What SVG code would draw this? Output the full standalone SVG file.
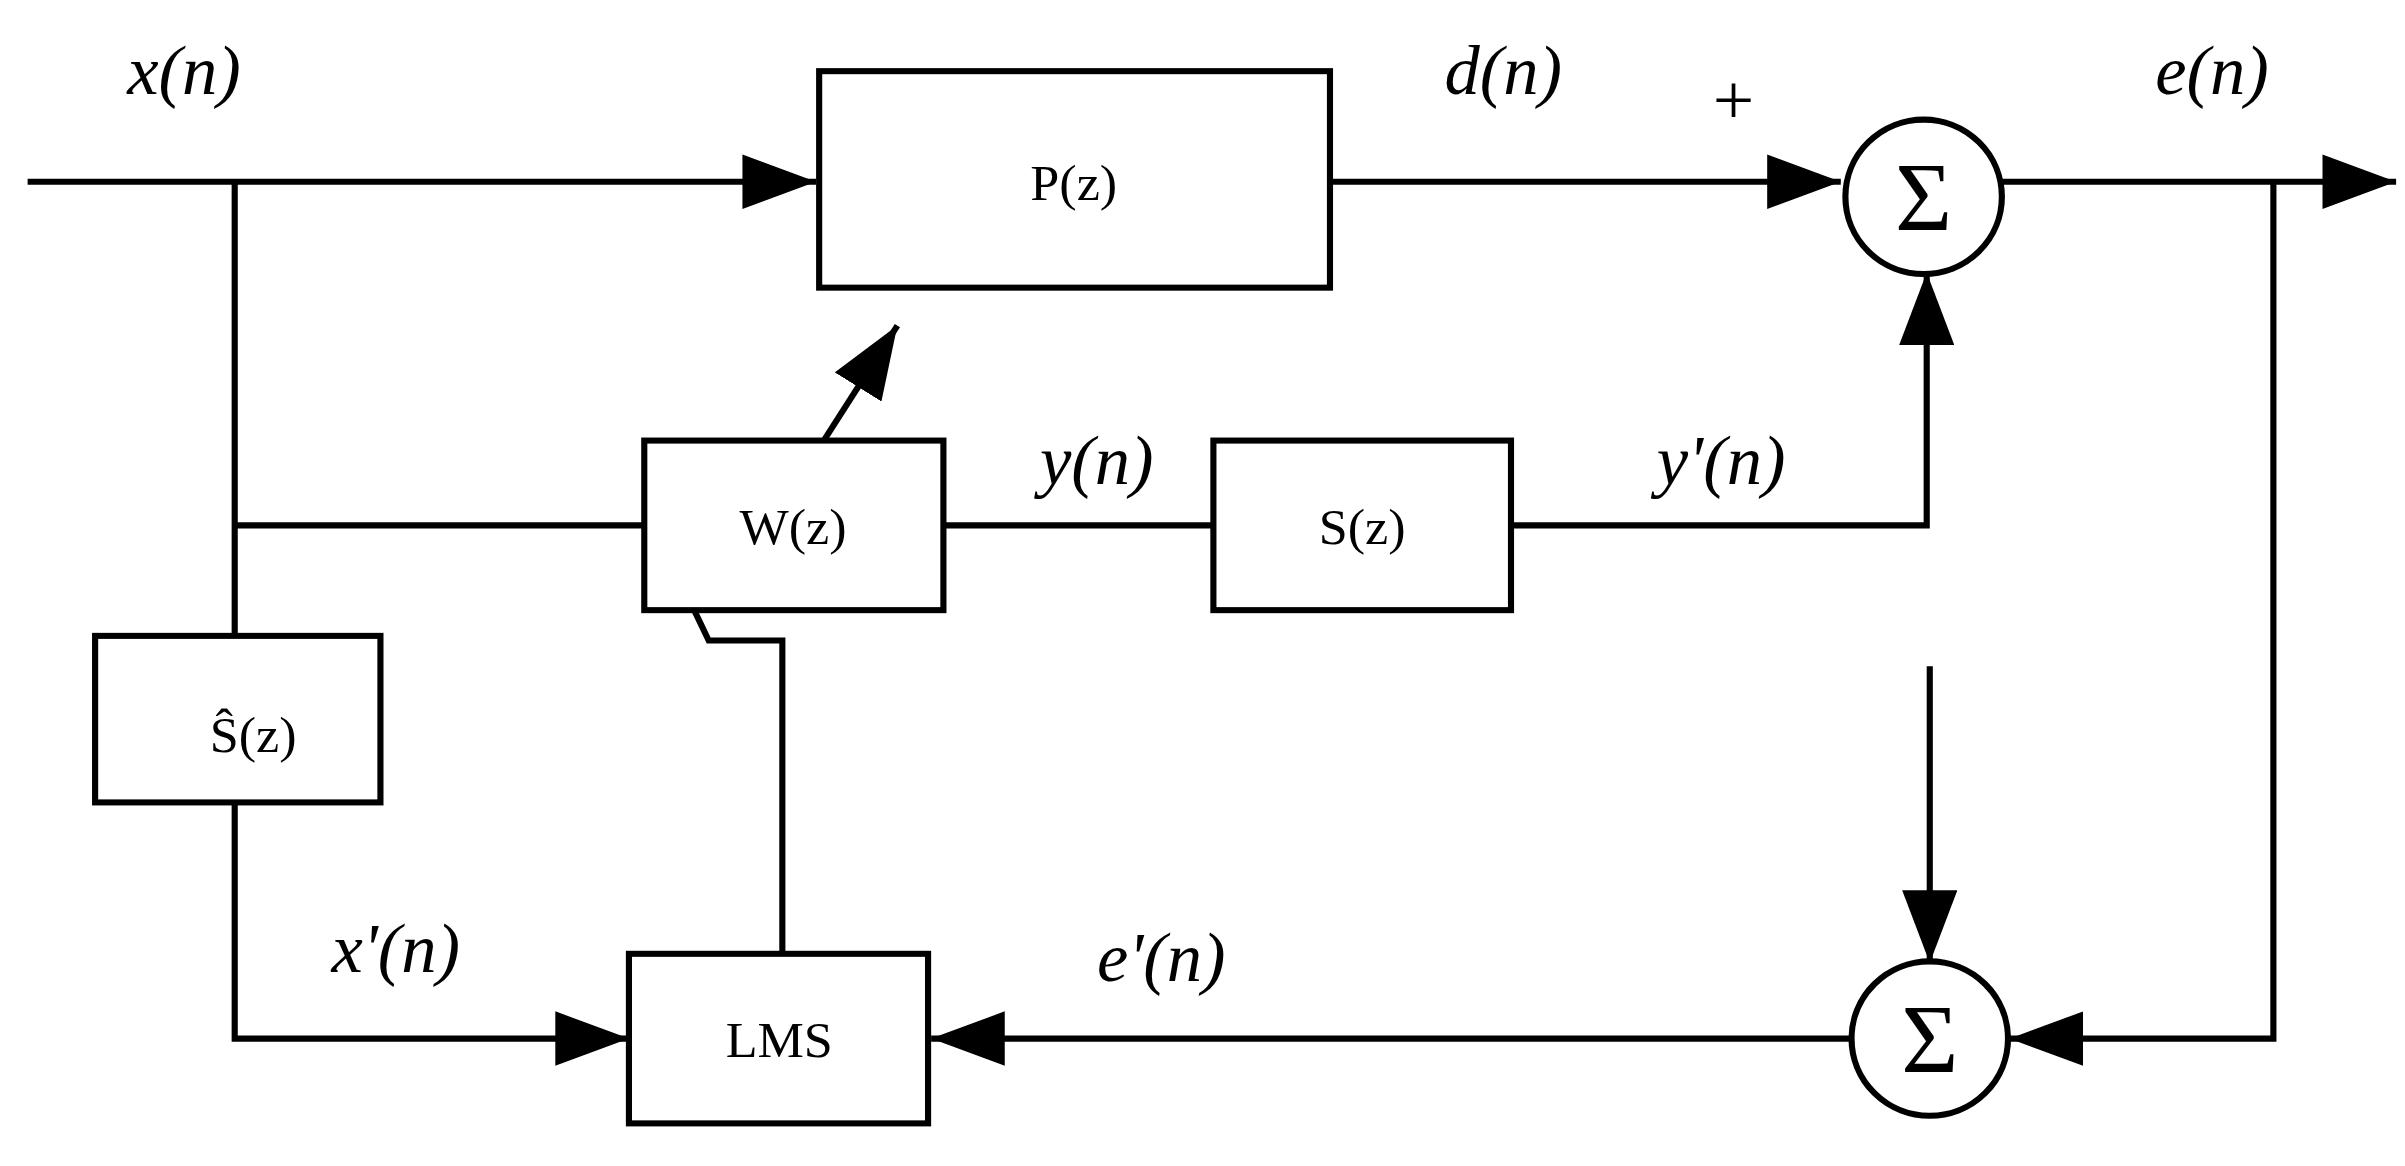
<svg xmlns="http://www.w3.org/2000/svg" width="2405" height="1166" viewBox="0 0 2405 1166">
<style>
.b{fill:#fff;stroke:#000;stroke-width:4}
.l{fill:none;stroke:#000;stroke-width:4}
.t{font-family:"Liberation Serif",serif;font-size:34px;text-anchor:middle}
.v{font-family:"Liberation Serif",serif;font-size:46px;font-style:italic;text-anchor:middle}
.s{font-family:"Liberation Serif",serif;font-size:64px;text-anchor:middle}
</style>
<defs><marker id="a" markerWidth="12" markerHeight="10" refX="12" refY="5" orient="auto" markerUnits="userSpaceOnUse" viewBox="0 0 12 10"><path d="M0,0L12,5L0,10z"/></marker>
<marker id="A" viewBox="0 0 48 36" refX="48" refY="18" markerWidth="48" markerHeight="36" orient="auto" markerUnits="userSpaceOnUse"><path d="M0,0L48,18L0,36z"/></marker></defs>
<rect width="2405" height="1166" fill="#fff"/>
<g transform="scale(1.534,1.514)">
<g id="connectors">
<path class="l" d="M18,120H532" marker-end="url(#A)"/>
<path class="l" d="M867,120H1200" marker-end="url(#A)"/>
<path class="l" d="M1305,120H1562" marker-end="url(#A)"/>
<path class="l" d="M153,120V420M153,347H420M615,347H791"/>
<path class="l" d="M985,347H1256V180" marker-end="url(#A)"/>
<path class="l" d="M537,291L585,215" marker-end="url(#A)"/>
<path class="l" d="M510,630V423H462L453,404"/>
<path class="l" d="M153,530V686H410" marker-end="url(#A)"/>
<path class="l" d="M1208,686H607" marker-end="url(#A)"/>
<path class="l" d="M1482,120V686H1310" marker-end="url(#A)"/>
<path class="l" d="M1258,440V636" marker-end="url(#A)"/>
</g>
<g id="P"><rect class="b" x="534" y="47" width="333" height="143"/><text class="t" x="700" y="132">P(z)</text></g>
<g id="W"><rect class="b" x="420" y="291" width="195" height="112"/><text class="t" x="517" y="359">W(z)</text></g>
<g id="S"><rect class="b" x="791" y="291" width="194" height="112"/><text class="t" x="888" y="359">S(z)</text></g>
<g id="Shat"><rect class="b" x="62" y="420" width="186" height="110"/><text class="t" x="165" y="497">Ŝ(z)</text></g>
<g id="LMS"><rect class="b" x="410" y="630" width="195" height="112"/><text class="t" x="508" y="698">LMS</text></g>
<g id="sum1"><circle class="b" cx="1254" cy="130" r="51"/><text class="s" x="1254" y="152">Σ</text></g>
<g id="sum2"><circle class="b" cx="1258" cy="686" r="51"/><text class="s" x="1258" y="708">Σ</text></g>
<g id="labels">
<text class="v" x="120" y="62">x(<tspan>n</tspan>)</text>
<text class="v" x="980" y="62">d(n)</text>
<text class="t" x="1130" y="82" style="font-size:48px">+</text>
<text class="v" x="1442" y="62">e(n)</text>
<text class="v" x="715" y="320">y(n)</text>
<text class="v" x="1122" y="320">y'(n)</text>
<text class="v" x="258" y="642">x'(n)</text>
<text class="v" x="757" y="648">e'(n)</text>
</g>
</g>
</svg>
